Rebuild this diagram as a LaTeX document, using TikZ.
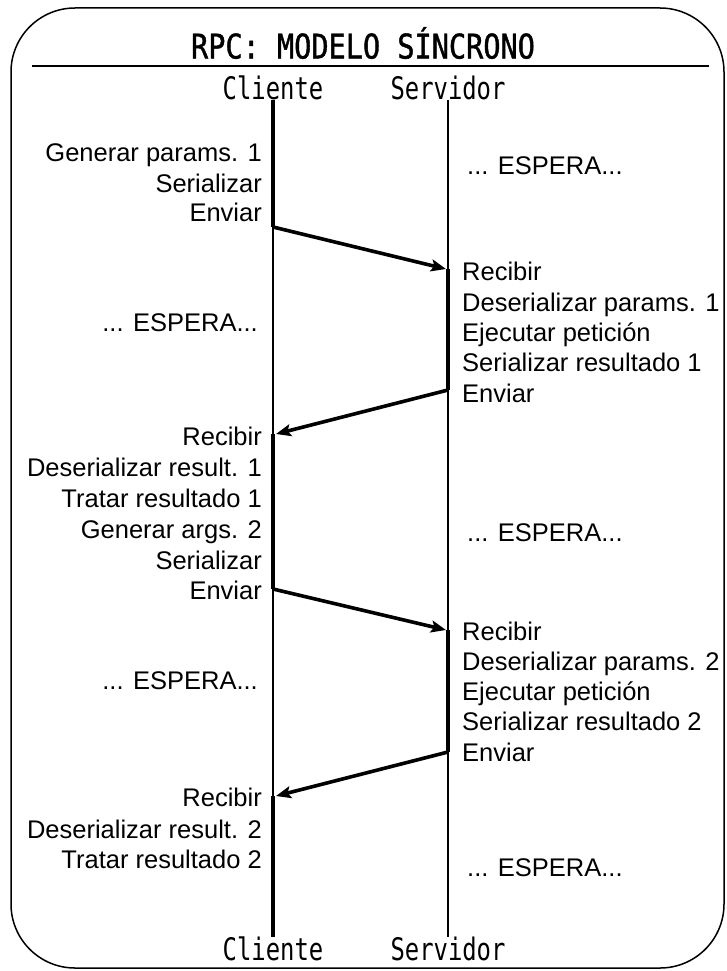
\documentclass[tikz,border=0pt]{standalone}
\usepackage{fontspec}
\setmainfont{Liberation Sans}
\newfontfamily\headfont[FakeStretch=0.77]{DejaVu Sans Mono}
\newfontfamily\titlefont[FakeStretch=0.84,FakeBold=1.2]{DejaVu Sans Mono}
\usetikzlibrary{arrows.meta}

\tikzset{
    step text/.style={
        inner sep=0pt,
        font=\fontsize{25.5}{30}\selectfont
    },
    client step/.style={step text,anchor=base east},
    server step/.style={step text,anchor=base west},
    head label/.style={
        inner sep=0pt,
        font=\headfont\fontsize{31}{31}\selectfont
    },
    lifeline/.style={line width=1.4pt},
    active/.style={line width=4pt},
    message/.style={line width=3.6pt,-{Stealth[length=15pt,width=12pt,inset=3pt]}}
}

\begin{document}
\begin{tikzpicture}[x=1pt,y=-1pt]
        \useasboundingbox (0,0) rectangle (726,971);
        \draw[line width=1.5pt,rounded corners=64pt] (11,8) rectangle (724,968);
        \node[inner sep=0pt,font=\titlefont\fontsize{34}{34}\selectfont] (title) at (363,43) {RPC: MODELO SÍNCRONO};
        \draw[line width=1.5pt] (32,66) -- (709,66);
        % cabeceras y pies
        \node[head label] (cli top) at (273,88) {Cliente};
        \node[head label] (srv top) at (448,88) {Servidor};
        \node[head label] (cli bot) at (273,949) {Cliente};
        \node[head label] (srv bot) at (448,949) {Servidor};
        \draw[lifeline] (cli top.south) coordinate (c0) -- (c0 |- cli bot.north);
        \draw[lifeline] (srv top.south) coordinate (s0) -- (s0 |- srv bot.north);
        % puntos de envio y recepcion
        \coordinate (c send1) at (273,227);
        \coordinate (s recv1) at (446,269);
        \coordinate (s send1) at (448,390);
        \coordinate (c recv1) at (276,434);
        \coordinate (c send2) at (273,589);
        \coordinate (s recv2) at (446,630);
        \coordinate (s send2) at (448,752);
        \coordinate (c recv2) at (276,796);
        \draw[active] (c0) -- (c send1);
        \draw[active] (c recv1 -| c0) -- (c send2);
        \draw[active] (c recv2 -| c0) -- (c0 |- cli bot.north);
        \draw[active] (s recv1 -| s0) -- (s send1);
        \draw[active] (s recv2 -| s0) -- (s send2);
        \draw[message] (c send1) -- (s recv1);
        \draw[message] (s send1) -- (c recv1);
        \draw[message] (c send2) -- (s recv2);
        \draw[message] (s send2) -- (c recv2);
        % cliente
        \foreach \y/\txt [count=\n] in {161/Generar params. 1,192/Serializar,221/Enviar,
                445/Recibir,476/Deserializar result. 1,507/Tratar resultado 1,538/Generar args. 2,569/Serializar,599/Enviar,
                806/Recibir,838/Deserializar result. 2,868/Tratar resultado 2}
            \node[client step] (cli\n) at (262,\y) {\txt};
        % servidor
        \foreach \y/\txt [count=\n] in {280/Recibir,311/Deserializar params. 1,341/Ejecutar petición,371/Serializar resultado 1,402/Enviar,
                640/Recibir,670/Deserializar params. 2,700/Ejecutar petición,730/Serializar resultado 2,761/Enviar}
            \node[server step] (srv\n) at (462,\y) {\txt};
        % esperas
        \node[client step] (cli wait1) at (258,331) {... ESPERA...};
        \node[client step] (cli wait2) at (258,689) {... ESPERA...};
        \foreach \y [count=\n] in {174,541,876}
            \node[server step] (srv wait\n) at (467,\y) {... ESPERA...};
    \end{tikzpicture}
\end{document}
